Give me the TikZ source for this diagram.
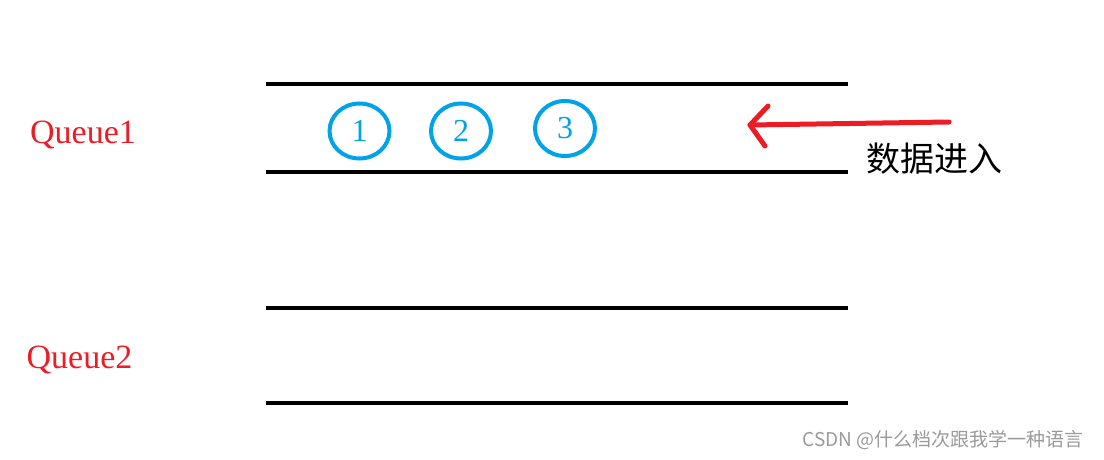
\documentclass[tikz,border=0pt]{standalone}
\usepackage{fontspec}
\usetikzlibrary{shapes.geometric}
\newfontfamily\cjk{Noto Sans CJK SC}
\newfontfamily\lserif{Liberation Serif}
\definecolor{qred}{HTML}{ED1C24}
\definecolor{qblue}{HTML}{00A2E8}
\definecolor{wm}{HTML}{9A9A9A}
\begin{document}
\begin{tikzpicture}[x=1pt,y=-1pt,
  rail/.style={line width=4.5pt,black},
  item/.style={ellipse,draw=qblue,line width=4pt,minimum width=60pt,minimum height=55pt,inner sep=0pt,text=qblue,font=\lserif\fontsize{32}{32}\selectfont},
  qlabel/.style={text=qred,font=\lserif\fontsize{34}{34}\selectfont,inner sep=0pt},
  redline/.style={qred,line width=5pt,line cap=round,line join=round}]
\useasboundingbox (0,0) rectangle (1104,460);
% queue 1 rails
\draw[rail] (266,84) -- (848,84);
\draw[rail] (266,172) -- (848,172);
% queue 2 rails
\draw[rail] (266,308) -- (848,308);
\draw[rail] (266,403) -- (848,403);
% items
\node[item] (n1) at (359.5,131) {1};
\node[item] (n2) at (461,131) {2};
\node[item] (n3) at (565,128.5) {3};
% labels
\node[qlabel] (q1) at (83,135) {Queue1};
\node[qlabel] (q2) at (79.5,360) {Queue2};
% arrow
\coordinate (tail) at (949,122);
\coordinate (tip) at (750,125);
\coordinate (b1) at (768,106);
\coordinate (b2) at (765,146);
\draw[redline] (tail) -- (tip);
\draw[redline] (b1) -- (tip) -- (b2);
\node[font=\cjk\fontsize{34}{34}\selectfont,inner sep=0pt] (data) at (934,159) {数据进入};
\node[font=\cjk\fontsize{19}{19}\selectfont,text=wm,inner sep=0pt] (wmark) at (943,440) {CSDN @什么档次跟我学一种语言};
\end{tikzpicture}
\end{document}
